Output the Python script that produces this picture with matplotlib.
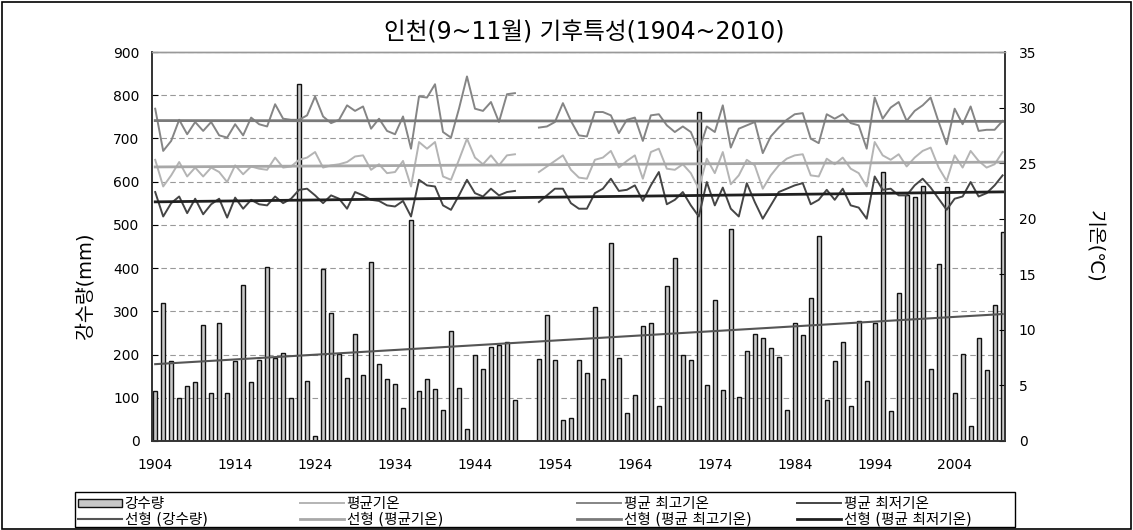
import numpy as np
import matplotlib
matplotlib.use("Agg")
from matplotlib import pyplot as plt
from matplotlib.patches import Rectangle

plt.rcParams['font.family'] = ['DejaVu Sans', 'Noto Sans CJK KR']

nan = np.nan

# years 1904~2010 (1950, 1951 missing)
years = np.arange(1904, 2011)

# precipitation (mm), Sep~Nov
rain = [116, 320, 185, 100, 128, 137, 269, 112, 274, 112,
        185, 362, 137, 188, 403, 192, 204, 100, 825, 139,
        12, 398, 295, 201, 146, 248, 153, 415, 177, 144,
        133, 77, 512, 116, 144, 121, 72, 255, 123, 28,
        200, 167, 218, 221, 229, 95, nan, nan, 190, 292,
        188, 49, 54, 188, 158, 311, 144, 458, 192, 65,
        107, 267, 274, 82, 359, 424, 198, 188, 761, 130,
        327, 118, 491, 102, 209, 248, 239, 216, 195, 72,
        272, 246, 332, 475, 95, 186, 230, 82, 278, 139,
        272, 622, 70, 343, 568, 565, 591, 167, 410, 588,
        112, 202, 35, 239, 165, 315, 484]

# mean temperature
t_mean = [25.3, 22.9, 23.9, 25.1, 23.8, 24.6, 23.8, 24.6, 24.2, 23.3,
          24.8, 24.0, 24.7, 24.5, 24.4, 25.5, 24.6, 24.7, 25.3, 25.5,
          26.0, 24.6, 24.8, 24.9, 25.1, 25.6, 25.7, 24.4, 24.9, 24.1,
          24.2, 25.2, 22.9, 26.9, 26.3, 26.9, 23.8, 23.5, 25.3, 27.2,
          25.5, 24.9, 25.7, 24.8, 25.7, 25.8, nan, nan, 24.2, 24.7,
          25.2, 25.7, 24.4, 23.7, 23.6, 25.3, 25.5, 26.1, 24.6, 25.2,
          25.7, 23.6, 26.0, 26.3, 24.5, 24.4, 24.9, 24.1, 22.7, 25.4,
          24.1, 26.0, 23.1, 23.9, 25.3, 24.8, 22.7, 23.9, 24.8, 25.4,
          25.7, 25.8, 23.9, 23.8, 25.4, 24.9, 25.5, 24.5, 24.1, 22.9,
          26.9, 25.7, 25.3, 25.8, 24.7, 25.5, 26.1, 26.4, 24.6, 23.4,
          25.7, 24.6, 26.1, 25.2, 24.6, 24.9, 26.0]

# mean maximum temperature
t_max = [29.9, 26.1, 27.0, 28.9, 27.6, 28.7, 27.9, 28.7, 27.5, 27.3,
         28.5, 27.5, 29.1, 28.5, 28.3, 30.3, 29.0, 28.9, 28.9, 29.3,
         31.0, 29.2, 28.6, 28.9, 30.2, 29.7, 30.1, 28.1, 29.0, 27.9,
         27.6, 29.2, 26.3, 31.0, 30.9, 32.1, 27.8, 27.3, 29.9, 32.8,
         29.9, 29.7, 30.5, 28.7, 31.2, 31.3, nan, nan, 28.2, 28.3,
         28.7, 30.4, 28.8, 27.5, 27.4, 29.6, 29.6, 29.3, 27.7, 28.9,
         29.1, 27.0, 29.3, 29.4, 28.4, 27.8, 28.3, 27.8, 26.1, 28.3,
         27.8, 30.2, 26.4, 28.1, 28.4, 28.7, 25.9, 27.4, 28.2, 28.9,
         29.4, 29.5, 27.2, 26.8, 29.4, 29.0, 29.4, 28.6, 28.4, 26.3,
         30.9, 29.0, 30.0, 30.5, 28.8, 29.7, 30.2, 30.9, 28.7, 26.7,
         29.9, 28.5, 30.1, 27.9, 28.0, 28.0, 28.8]

# mean minimum temperature
t_min = [22.4, 20.2, 21.4, 22.0, 20.5, 21.8, 20.4, 21.3, 21.8, 20.1,
         21.9, 20.9, 21.7, 21.3, 21.2, 22.0, 21.4, 21.8, 22.6, 22.7,
         22.1, 21.4, 22.1, 21.8, 20.9, 22.4, 22.1, 21.7, 21.6, 21.2,
         21.1, 21.6, 20.2, 23.5, 23.0, 22.9, 21.2, 20.8, 22.1, 23.5,
         22.3, 22.0, 22.7, 22.1, 22.4, 22.5, nan, nan, 21.5, 22.1,
         22.7, 22.7, 21.4, 20.9, 20.9, 22.3, 22.7, 23.6, 22.5, 22.6,
         23.0, 21.6, 23.0, 24.2, 21.3, 21.7, 22.4, 21.2, 20.2, 23.3,
         21.2, 22.8, 20.9, 20.2, 23.2, 21.5, 20.0, 21.2, 22.4, 22.7,
         23.0, 23.2, 21.3, 21.7, 22.6, 21.7, 22.7, 21.2, 21.0, 20.0,
         23.8, 22.6, 22.7, 22.1, 22.1, 23.0, 23.6, 22.8, 21.8, 20.8,
         21.8, 22.0, 23.3, 22.0, 22.3, 23.0, 23.9]

rain = np.array(rain, dtype=float)
t_mean = np.array(t_mean)
t_max = np.array(t_max)
t_min = np.array(t_min)


# linear trend like excel (skip missing years)
def trend(y):
    ok = ~np.isnan(y)
    a, b = np.polyfit(years[ok], y[ok], 1)
    return a * years + b


fig = plt.figure(figsize=(11.33, 5.30), dpi=100)
fig.set_facecolor('white')
fig.patches.append(Rectangle((0.002, 0.002), 0.996, 0.994, transform=fig.transFigure,
                             fill=False, edgecolor='black', linewidth=1.2))

ax = fig.add_axes([152 / 1133, 1 - 441 / 530, (1005 - 152) / 1133, (441 - 52) / 530])
ax2 = ax.twinx()

# bars
bars = ax.bar(years, rain, width=0.5, color='#c8c8c8', edgecolor='#111111', linewidth=1.0,
              zorder=2)
l_rain_tr, = ax.plot(years, trend(rain), color='#555555', lw=1.5, zorder=3)

ax.set_ylim(0, 900)
ax.set_yticks(np.arange(0, 901, 100))
ax.set_xlim(1903.6, 2010.3)
ax.set_xticks(np.arange(1904, 2005, 10))
ax.yaxis.grid(True, linestyle=(0, (5, 3)), color='#999999', linewidth=0.8)
ax.set_axisbelow(True)
ax.tick_params(axis='both', direction='in', length=4, labelsize=10, colors='black')
ax.tick_params(axis='x', length=0, pad=12)
ax.tick_params(axis='y', pad=9)
ax.set_ylabel('강수량(mm)', fontsize=14)
ax.yaxis.set_label_coords(-0.067, 0.40)

# temperature lines
l_mean, = ax2.plot(years, t_mean, color='#b4b4b4', lw=1.4)
l_max, = ax2.plot(years, t_max, color='#858585', lw=1.4)
l_min, = ax2.plot(years, t_min, color='#454545', lw=1.4)
l_mean_tr, = ax2.plot(years, trend(t_mean), color='#a8a8a8', lw=2)
l_max_tr, = ax2.plot(years, trend(t_max), color='#7a7a7a', lw=2)
l_min_tr, = ax2.plot(years, trend(t_min), color='#202020', lw=2)

ax2.set_ylim(0, 35)
ax2.set_yticks(np.arange(0, 36, 5))
ax2.tick_params(axis='y', direction='in', length=4, labelsize=10, pad=10)
ax2.set_ylabel('기온(℃)', fontsize=14, rotation=-90, labelpad=48)

for a in (ax, ax2):
    for s in ('left', 'right', 'bottom'):
        a.spines[s].set_color('#333333')
        a.spines[s].set_linewidth(1.2)
    a.spines['top'].set_color('#999999')
    a.spines['top'].set_linewidth(1)

fig.text(0.516, 0.938, '인천(9~11월) 기후특성(1904~2010)', ha='center', va='center', fontsize=17)

# legend: 4 columns at fixed x positions, one frame around all
columns = [
    ([bars, l_rain_tr], ['강수량', '선형 (강수량)']),
    ([l_mean, l_mean_tr], ['평균기온', '선형 (평균기온)']),
    ([l_max, l_max_tr], ['평균 최고기온', '선형 (평균 최고기온)']),
    ([l_min, l_min_tr], ['평균 최저기온', '선형 (평균 최저기온)']),
]
col_x = [78, 300, 577, 797]
for (hs, ls), x in zip(columns, col_x):
    fig.legend(hs, ls, loc='upper left', bbox_to_anchor=(x / 1133, 1 - 496 / 530),
               fontsize=10.5, frameon=False, borderaxespad=0, borderpad=0,
               handlelength=3.0, handleheight=0.45, handletextpad=0.2, labelspacing=0.02)
fig.patches.append(Rectangle((75 / 1133, 1 - 527 / 530), 940 / 1133, 35 / 530,
                             transform=fig.transFigure, fill=False, edgecolor='black',
                             linewidth=1))

plt.savefig('out.png', dpi=100)
